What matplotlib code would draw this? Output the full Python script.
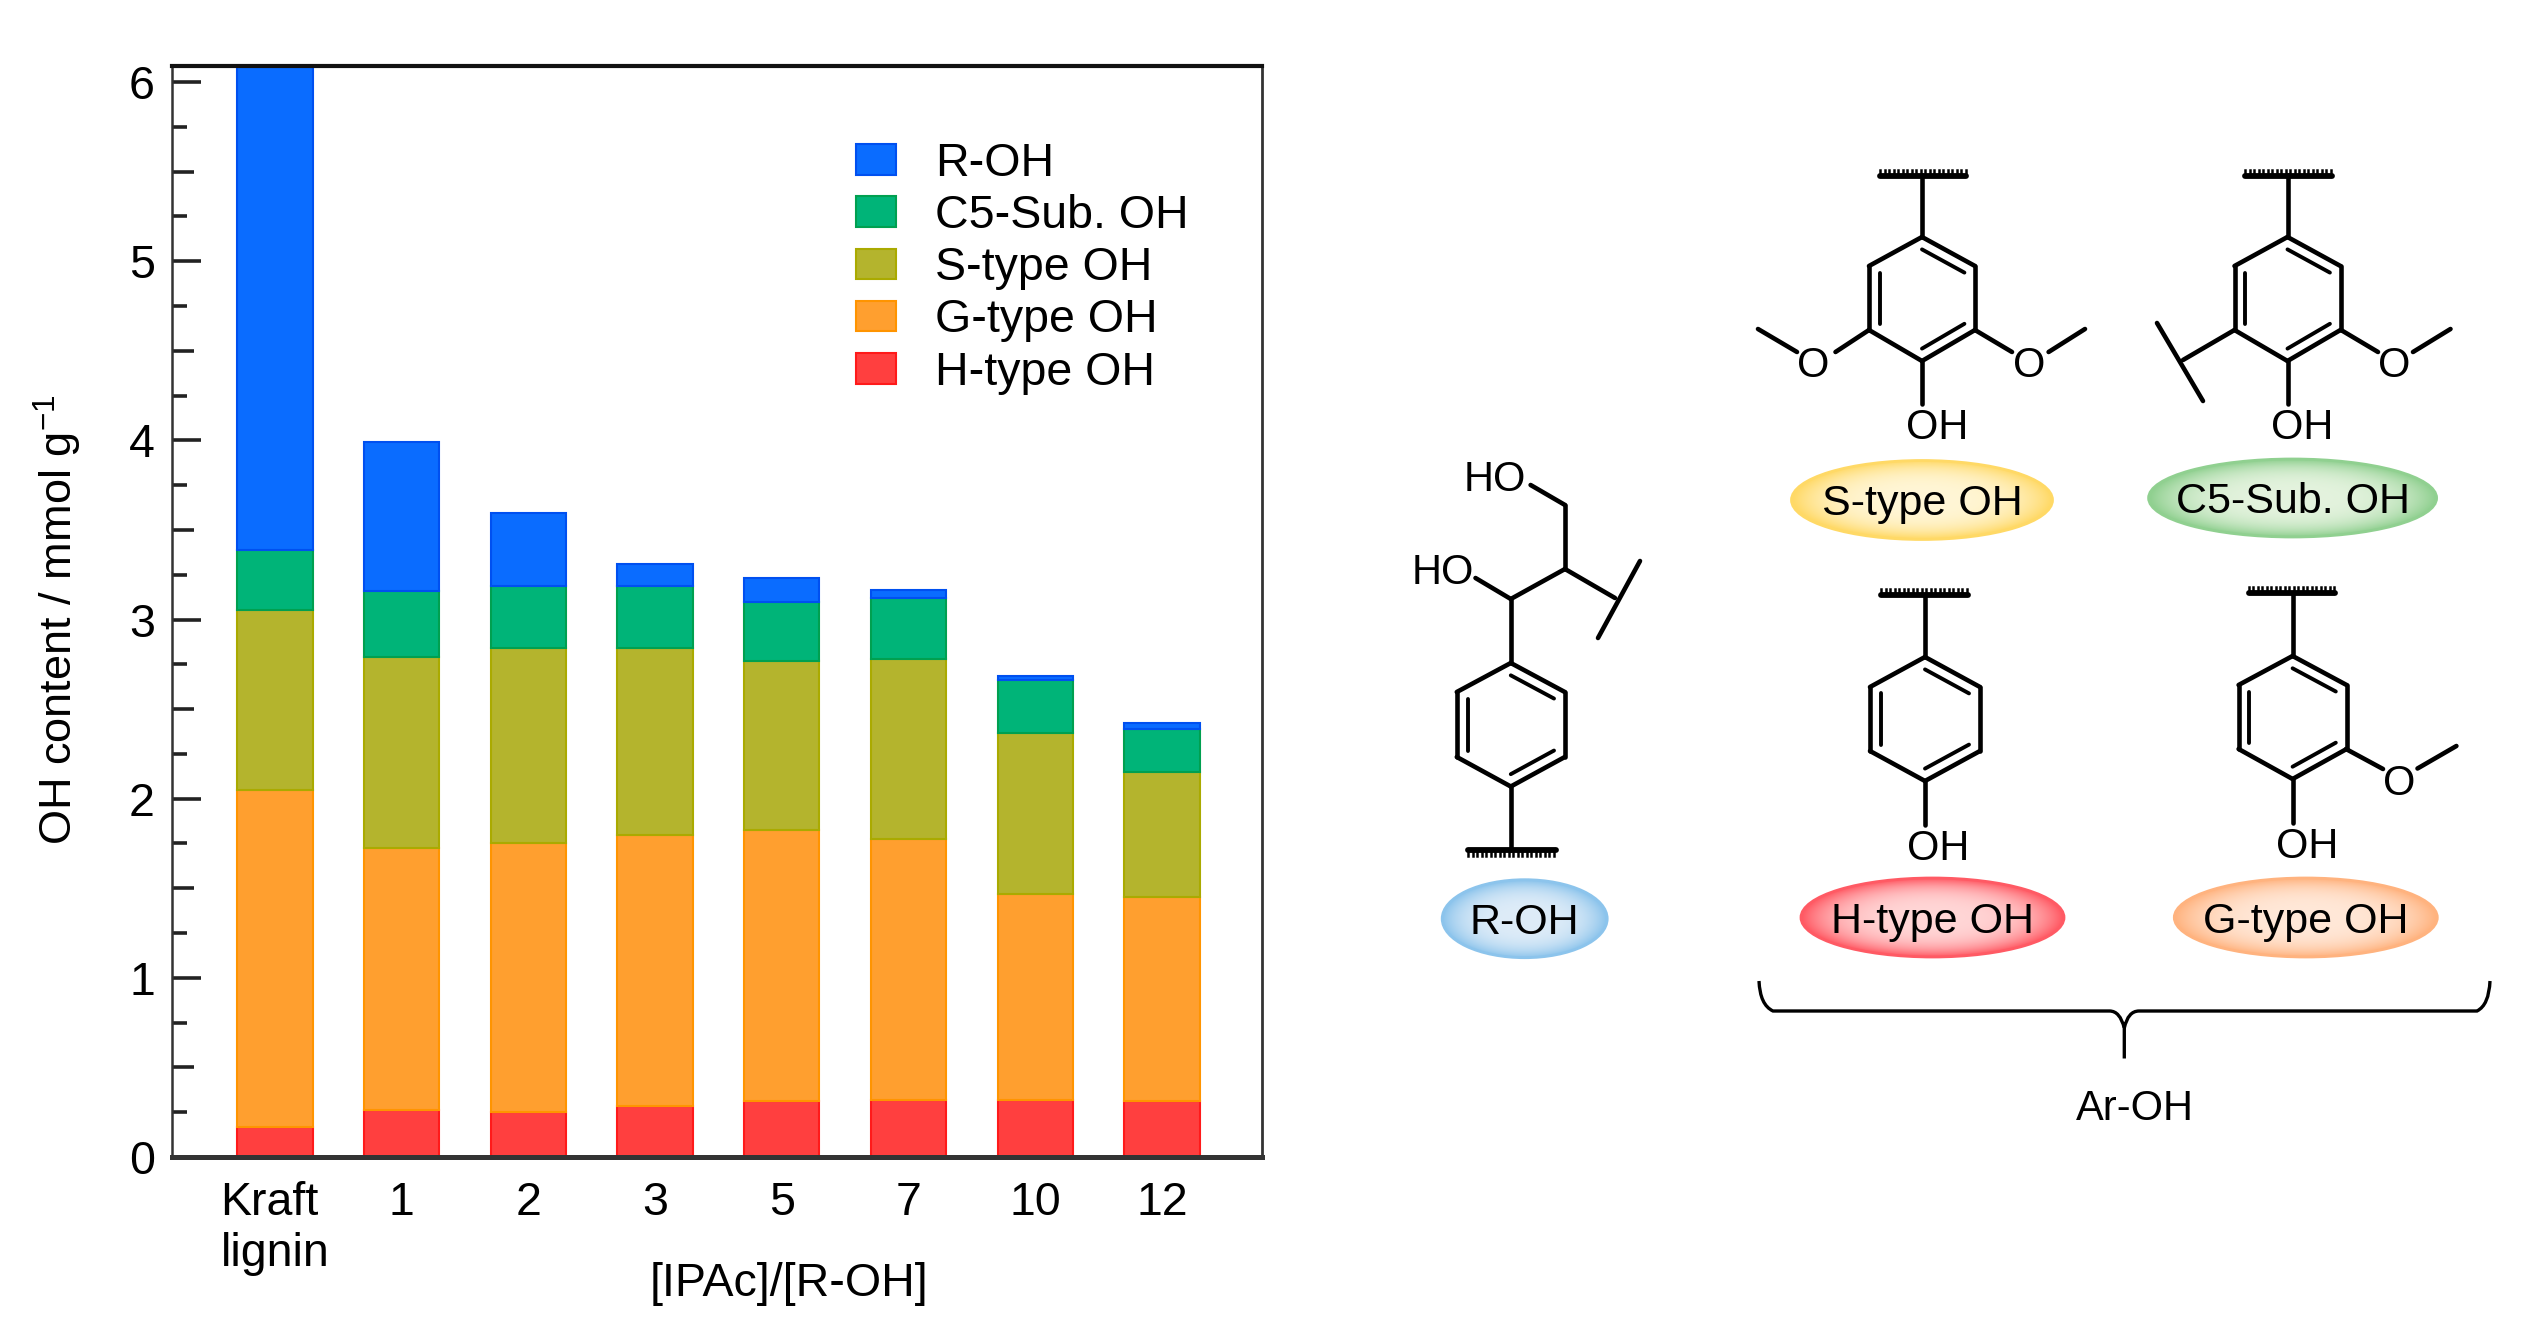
import numpy as np
import matplotlib
matplotlib.use('Agg')
import matplotlib.pyplot as plt
from matplotlib.patches import Ellipse, PathPatch, Patch
from matplotlib.path import Path
from matplotlib.colors import to_rgb
from matplotlib.ticker import MultipleLocator, FixedLocator

plt.rcParams['font.family'] = ['Liberation Sans', 'DejaVu Sans']
plt.rcParams['mathtext.fontset'] = 'custom'
plt.rcParams['mathtext.rm'] = 'Liberation Sans'
plt.rcParams['mathtext.default'] = 'regular'

W, H = 2532, 1327

categories = ['Kraft\nlignin', '1', '2', '3', '5', '7', '10', '12']
h_type = [0.17, 0.262, 0.25, 0.285, 0.31, 0.32, 0.32, 0.31]
g_type = [1.88, 1.463, 1.50, 1.515, 1.515, 1.455, 1.15, 1.14]
s_type = [1.005, 1.065, 1.09, 1.04, 0.941, 1.005, 0.895, 0.70]
c5_sub = [0.335, 0.367, 0.345, 0.345, 0.334, 0.34, 0.295, 0.237]
r_oh = [2.75, 0.833, 0.41, 0.125, 0.13, 0.045, 0.025, 0.033]

series = [
    ('H-type OH', h_type, '#FF3F3F', '#FF1A1A'),
    ('G-type OH', g_type, '#FF9F2F', '#FF9400'),
    ('S-type OH', s_type, '#B4B42D', '#AAAA00'),
    ('C5-Sub. OH', c5_sub, '#00B478', '#00A050'),
    ('R-OH', r_oh, '#0A6CFF', '#0050F0'),
]

fig = plt.figure(figsize=(W / 100, H / 100), dpi=100, facecolor='white')

# bar chart
ax = fig.add_axes([171.6 / W, 1 - 1157 / H, (1262 - 171.6) / W, (1157 - 66) / H])
x = np.arange(len(categories))
bottom = np.zeros(len(categories))
handles = []
for name, vals, col, edge in series:
    ax.bar(x, vals, 0.595, bottom=bottom, color=col, edgecolor=edge, linewidth=1.5)
    bottom = bottom + np.array(vals)
    handles.append(Patch(facecolor=col, edgecolor=edge, linewidth=1.5, label=name))

ax.set_xlim(-0.816, 7.79)
ax.set_ylim(0, 6.09)
ax.set_xticks(x)
ax.set_xticklabels(categories, fontsize=33.5, multialignment='left', linespacing=1.21)
ax.tick_params(axis='x', length=0, pad=17)
ax.yaxis.set_major_locator(MultipleLocator(1))
ax.yaxis.set_minor_locator(FixedLocator([v / 4 for v in range(1, 25) if v % 2 != 0]))
ax.tick_params(axis='y', which='major', direction='in', length=21, width=2.6, labelsize=33.5, pad=12, color='#222222')
ax.tick_params(axis='y', which='minor', direction='in', length=11, width=2.6, color='#222222')
# the half-way ticks are a bit longer than the quarter ones
for v in np.arange(0.5, 6, 1):
    ax.plot([0, 22 / 1090.4], [v, v], transform=ax.get_yaxis_transform(),
            color='#222222', lw=2.6, solid_capstyle='butt', clip_on=False)
ax.spines['top'].set_linewidth(3)
ax.spines['top'].set_color('#111111')
ax.spines['bottom'].set_linewidth(3.6)
ax.spines['bottom'].set_color('#333333')
ax.spines['left'].set_linewidth(1.8)
ax.spines['left'].set_color('#333333')
ax.spines['right'].set_linewidth(2)
ax.spines['right'].set_color('#333333')
ax.set_xlabel('[IPAc]/[R-OH]', fontsize=33.5)
ax.xaxis.set_label_coords((789 - 171.6) / 1090.4, -(1284 - 1157) / 1091, transform=ax.transAxes)
ax.xaxis.label.set_va('center')
ax.set_ylabel('OH content / mmol g$^{-1}$', fontsize=32.5)
ax.yaxis.set_label_coords(-(171.6 - 58) / 1090.4, (1157 - 620) / 1091, transform=ax.transAxes)
ax.yaxis.label.set_va('center')

ax.legend(handles=handles[::-1], loc='upper left', frameon=False, fontsize=33.5,
          bbox_to_anchor=((856 - 171.6) / 1090.4, (1157 - 142) / 1091), borderpad=0, borderaxespad=0,
          handlelength=0.86, handleheight=0.64, handletextpad=0.83, labelspacing=0.175)

# structures, drawn in picture pixels
ov = fig.add_axes([0, 0, 1, 1], facecolor='none')
ov.set_xlim(0, W)
ov.set_ylim(H, 0)
ov.axis('off')
BOND = 3.3


def bond(p, q, lw=BOND):
    ov.plot([p[0], q[0]], [p[1], q[1]], color='black', lw=lw, solid_capstyle='round', solid_joinstyle='round')


def ring(cx, top, shoulder1, shoulder2, bot, hw):
    cy = (top + bot) / 2
    pts = [(cx, top), (cx + hw, shoulder1), (cx + hw, shoulder2), (cx, bot), (cx - hw, shoulder2), (cx - hw, shoulder1)]
    for i in range(6):
        bond(pts[i], pts[(i + 1) % 6])
    inner = [(cx + (a - cx) * 0.8, cy + (b - cy) * 0.8) for a, b in pts]
    for i in (0, 2, 4):
        bond(inner[i], inner[(i + 1) % 6], lw=2.8)


def anchor(x0, x1, y, side):
    # hatched attachment bar at the end of a chain
    bond((x0, y), (x1, y), lw=4.2)
    for xx in np.arange(x0, x1 + 1, 4.5):
        ov.plot([xx, xx], [y, y + side * 6], color='black', lw=1.8)


def label(px, py, s, size=30):
    ov.text(px, py + 3, s, fontsize=size, ha='center', va='center', color='black')


def oval(cx, cy, w, h, rim, mid, text):
    n = 90
    yy, xx = np.mgrid[-1:1:n * 1j, -1:1:n * 1j]
    r = np.clip(np.sqrt(xx ** 2 + yy ** 2), 0, 1)[..., None] ** 3.5
    img = np.array(to_rgb(mid)) * (1 - r) + np.array(to_rgb(rim)) * r
    im = ov.imshow(img, extent=(cx - w / 2, cx + w / 2, cy + h / 2, cy - h / 2), aspect='auto', interpolation='bilinear')
    e = Ellipse((cx, cy), w, h, facecolor='none', edgecolor=rim, lw=2)
    ov.add_patch(e)
    im.set_clip_path(e)
    ov.text(cx, cy + 4, text, fontsize=31, ha='center', va='center', color='black')


# S-type
ring(1922, 237, 266, 330, 361, 53)
bond((1922, 237), (1922, 175))
anchor(1880, 1966, 176, -1)
bond((1922, 361), (1922, 404))
label(1937, 425, 'OH')
bond((1869, 330), (1835.5, 352))
bond((1797, 352), (1758, 329))
label(1813.5, 363, 'O')
bond((1975, 330), (2012, 352))
bond((2048.6, 352), (2085, 329))
label(2029, 363, 'O')
oval(1922, 500, 261, 79, '#FFD966', '#FFF6D6', 'S-type OH')

# C5-substituted
ring(2287.5, 237, 266, 330, 361, 53)
bond((2287.5, 237), (2287.5, 175))
anchor(2245, 2331.5, 176, -1)
bond((2287.5, 361), (2287.5, 404))
label(2302, 425, 'OH')
bond((2234.5, 330), (2183, 360))
bond((2157, 323), (2203, 401))
bond((2341, 330), (2378, 352))
bond((2413, 352), (2450.5, 329))
label(2394, 363, 'O')
oval(2292.6, 498, 288, 78, '#90D090', '#E4F3DE', 'C5-Sub. OH')

# R-OH side chain
label(1495, 477, 'HO')
bond((1530.6, 485), (1565, 505))
bond((1565, 505), (1565, 569))
label(1442.5, 570, 'HO')
bond((1475.5, 578), (1510.8, 599))
bond((1510.8, 599), (1565, 569))
bond((1565, 569), (1615, 598))
bond((1640, 561), (1598, 638))
bond((1510.8, 599), (1510.8, 663))
ring(1510.8, 663, 692, 757, 786.5, 54)
bond((1510.8, 786.5), (1510.8, 850))
anchor(1468, 1556, 850, 1)
oval(1524.7, 918.7, 165, 78, '#8CC4EC', '#DEECF8', 'R-OH')

# H-type
ring(1925, 657, 687, 751, 781, 55)
bond((1925, 657), (1925, 595))
anchor(1881, 1968, 595, -1)
bond((1925, 781), (1925, 825))
label(1938.4, 846, 'OH')
oval(1932.5, 917.5, 263, 79, '#FF5A64', '#FFD6D6', 'H-type OH')

# G-type
ring(2292.6, 656, 685, 749, 779, 54)
bond((2292.6, 656), (2292.6, 593))
anchor(2248.5, 2335, 593, -1)
bond((2292.6, 779), (2292.6, 823))
label(2307, 844, 'OH')
bond((2346, 749), (2383, 769))
bond((2417.5, 768.5), (2456.4, 746))
label(2399, 781, 'O')
oval(2305.8, 917.5, 263, 79, '#FFB37F', '#FFE8D8', 'G-type OH')

# brace under the aromatic types
verts = [(1759, 981), (1760, 1005), (1773, 1011), (2109.6, 1011), (2120, 1011), (2124.3, 1028), (2124.3, 1058.5),
         (2124.3, 1028), (2128, 1011), (2139, 1011), (2477, 1011), (2489, 1005), (2490, 981)]
codes = [Path.MOVETO, Path.CURVE3, Path.CURVE3, Path.LINETO, Path.CURVE3, Path.CURVE3, Path.LINETO,
         Path.MOVETO, Path.CURVE3, Path.CURVE3, Path.LINETO, Path.CURVE3, Path.CURVE3]
ov.add_patch(PathPatch(Path(verts, codes), facecolor='none', edgecolor='black', lw=2.4))
label(2134.6, 1106, 'Ar-OH')

ov.set_xlim(0, W)
ov.set_ylim(H, 0)

fig.savefig('out.png', dpi=100, facecolor='white')
